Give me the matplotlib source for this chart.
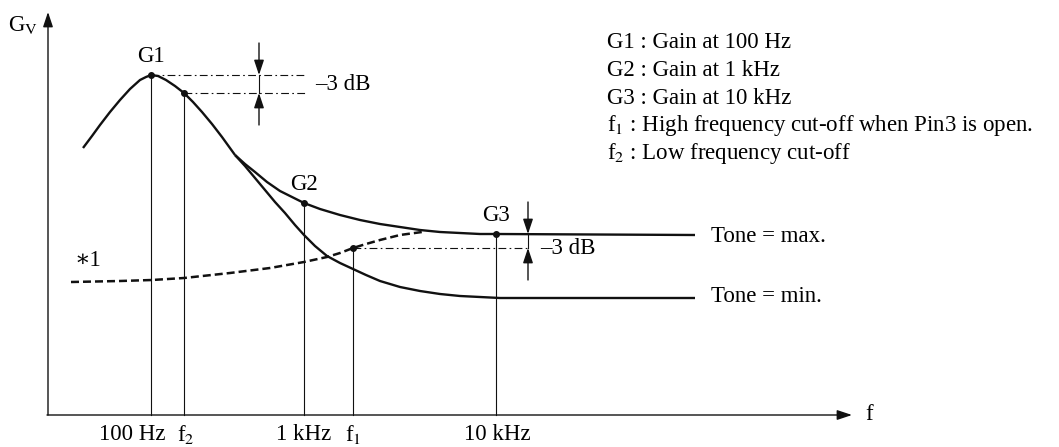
import matplotlib
matplotlib.use("Agg")
import matplotlib.pyplot as plt

plt.rcParams['font.family'] = ['Liberation Serif', 'DejaVu Serif']
plt.rcParams['mathtext.fontset'] = 'stix'

# schematic coordinates (x to the right, y downwards)
peak_x = [83, 92, 100, 110, 120, 130, 140, 146, 151, 158, 166, 175, 184, 193, 202, 212, 222, 235]
peak_y = [148, 136, 125, 112, 100, 89, 80, 77, 75, 76, 80, 86, 93, 102, 112, 124, 137, 155]

max_x = [235, 245, 255, 267, 280, 292, 304, 320, 340, 360, 380, 400, 420, 440, 460, 480, 496, 695]
max_y = [155, 164, 172, 182, 191, 197, 203, 209, 215, 220, 224, 227, 230, 232, 233, 234, 234, 235]

min_x = [235, 245, 255, 265, 275, 285, 295, 304, 315, 327, 340, 353, 366, 380, 400, 420,
         440, 460, 480, 500, 695]
min_y = [155, 166, 178, 190, 202, 213, 225, 235, 246, 256, 263, 269, 275, 281, 287, 291,
         294, 296, 297, 298, 298]

open_x = [71, 120, 152, 184, 230, 270, 304, 327, 340, 353, 366, 380, 400, 422]
open_y = [282, 281, 280, 278, 273, 268, 262, 257, 253, 248, 244, 240, 235, 232]

# marked points: G1, f2, G2, G3, f1
mark_x = [151, 184, 304, 496, 353]
mark_y = [75, 93, 203, 234, 248]
mark_names = ['G1', None, 'G2', 'G3', None]

tick_x = [132, 177, 304, 345, 497]
tick_ha = ['center', 'left', 'center', 'left', 'center']
tick_labels = ['100 Hz', r'f$_2$', '1 kHz', r'f$_1$', '10 kHz']

notes = ['G1 : Gain at 100 Hz', 'G2 : Gain at 1 kHz', 'G3 : Gain at 10 kHz',
         r'f$_1$ : High frequency cut-off when Pin3 is open.',
         r'f$_2$ : Low frequency cut-off']

x0, y0 = 48, 415
fs = 16.5

fig = plt.figure(figsize=(10.59, 4.47), dpi=100)
ax = fig.add_axes([0, 0, 1, 1])
ax.set_xlim(0, 1059)
ax.set_ylim(447, 0)
ax.axis('off')

k = '#111111'
arr = dict(arrowstyle='-|>,head_length=0.9,head_width=0.3', color=k, lw=1.0, shrinkA=0, shrinkB=0)

# axes
ax.annotate('', xy=(x0, 12), xytext=(x0, y0), arrowprops=arr)
ax.annotate('', xy=(852, y0), xytext=(x0 - 1, y0), arrowprops=arr)
ax.text(8, 25, r'G$_\mathrm{V}$', fontsize=fs, va='center')
ax.text(865, y0, 'f', fontsize=fs, va='center')

# curves
for cx, cy in [(peak_x, peak_y), (max_x, max_y), (min_x, min_y)]:
    ax.plot(cx, cy, color=k, lw=1.7, solid_joinstyle='round', solid_capstyle='butt')
ax.plot(open_x, open_y, color=k, lw=1.8, linestyle=(0, (3.2, 1.6)))

# vertical guide lines and dots
for mx, my, name in zip(mark_x, mark_y, mark_names):
    ax.plot([mx, mx], [y0, my], color=k, lw=0.8)
    ax.plot(mx, my, 'o', color=k, ms=4)
    if name:
        ax.text(mx, my - 8, name, fontsize=fs, ha='center', va='bottom')

# -3 dB markers
dd = (0, (7, 3, 1.5, 3))
ax.plot([151, 307], [75, 75], color=k, lw=0.8, linestyle=dd)
ax.plot([184, 307], [93, 93], color=k, lw=0.8, linestyle=dd)
ax.plot([353, 527], [248, 248], color=k, lw=0.8, linestyle=dd)
for ax_x, top, bot in [(259, 75, 93), (528, 234, 248)]:
    ax.annotate('', xy=(ax_x, top), xytext=(ax_x, top - 32), arrowprops=arr)
    ax.annotate('', xy=(ax_x, bot), xytext=(ax_x, bot + 32), arrowprops=arr)
    ax.plot([ax_x, ax_x], [top, bot], color=k, lw=0.8)
ax.text(315, 85, '\u20133 dB', fontsize=fs, va='center')
ax.text(540, 248, '\u20133 dB', fontsize=fs, va='center')

ax.text(75, 260, '\u22171', fontsize=fs, va='center')
ax.text(711, 237, 'Tone = max.', fontsize=fs, va='center')
ax.text(711, 297, 'Tone = min.', fontsize=fs, va='center')

for tx, lab, ha in zip(tick_x, tick_labels, tick_ha):
    ax.text(tx, 434, lab, fontsize=fs, ha=ha, va='center')

for i, line in enumerate(notes):
    ax.text(607, 42 + i * 28, line, fontsize=fs, va='center')

fig.savefig('out.png', dpi=100)
